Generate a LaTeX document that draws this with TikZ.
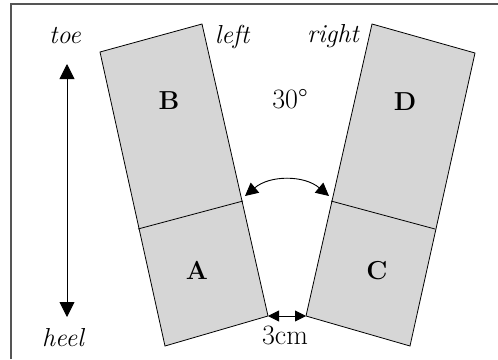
\documentclass[tikz,border=0pt]{standalone}
\usetikzlibrary{arrows.meta}
\definecolor{footgray}{RGB}{214,214,214}
\definecolor{framegray}{RGB}{85,85,85}
\tikzset{
    foot/.style={draw=black, fill=footgray, line width=0.8pt},
    divider/.style={draw=black, line width=0.8pt},
    textlabel/.style={font=\fontsize{28}{32}\selectfont, inner sep=0pt, anchor=base},
    sidelabel/.style={font=\fontsize{26}{30}\selectfont\itshape, inner sep=0pt, anchor=base},
    letter/.style={font=\fontsize{26}{30}\selectfont\bfseries, inner sep=0pt, anchor=base},
    axisarrow/.style={{Triangle[length=15pt,width=15pt]}-{Triangle[length=15pt,width=15pt]}, line width=0.9pt},
    anglearrow/.style={{Triangle[length=13pt,width=13pt]}-{Triangle[length=13pt,width=13pt]}, line width=0.9pt},
    gaparrow/.style={{Triangle[length=11pt,width=11pt]}-{Triangle[length=11pt,width=11pt]}, line width=0.9pt}
}
\begin{document}
\begin{tikzpicture}[x=1pt, y=-1pt]
    \useasboundingbox (0,0) rectangle (498,359);
    % frame, cut at right and bottom
    \draw[framegray, line width=1.5pt] (11,359) -- (11,4) -- (498,4);

    % left foot
    \coordinate (ltl) at (100,52);
    \coordinate (ltr) at (202,24);
    \coordinate (lbr) at (268,316);
    \coordinate (lbl) at (165,346);
    \coordinate (ldl) at (138,229);
    \coordinate (ldr) at (243,201);
    \draw[foot] (ltl) -- (ltr) -- (lbr) -- (lbl) -- cycle;
    \draw[divider] (ldl) -- (ldr);

    % right foot
    \coordinate (rtl) at (372,24);
    \coordinate (rtr) at (475,53);
    \coordinate (rbr) at (410,346);
    \coordinate (rbl) at (306,316);
    \coordinate (rdl) at (331,201);
    \coordinate (rdr) at (435,229);
    \draw[foot] (rtl) -- (rtr) -- (rbr) -- (rbl) -- cycle;
    \draw[divider] (rdl) -- (rdr);

    % labels
    \node[sidelabel] (toe) at (65,43) {toe};
    \node[sidelabel] (heel) at (63,346) {heel};
    \node[sidelabel] (left) at (232,43) {left};
    \node[sidelabel] (right) at (333,42) {right};
    \node[textlabel] (angle) at (290,108) {30\textdegree};
    \node[letter] (B) at (169,109) {B};
    \node[letter] (D) at (405,110) {D};
    \node[letter] (A) at (197,279) {A};
    \node[letter] (C) at (377,279) {C};
    \node[textlabel] (gap) at (285,344) {3cm};

    % arrows
    \coordinate (up) at (67,64);
    \coordinate (down) at (67,317);
    \draw[axisarrow] (down) -- (up);
    \coordinate (al) at (245,196);
    \coordinate (ar) at (329,196);
    \draw[anglearrow] (al) .. controls (270,175) and (304,175) .. (ar);
    \draw[gaparrow] (lbr) -- (rbl);
\end{tikzpicture}
\end{document}
